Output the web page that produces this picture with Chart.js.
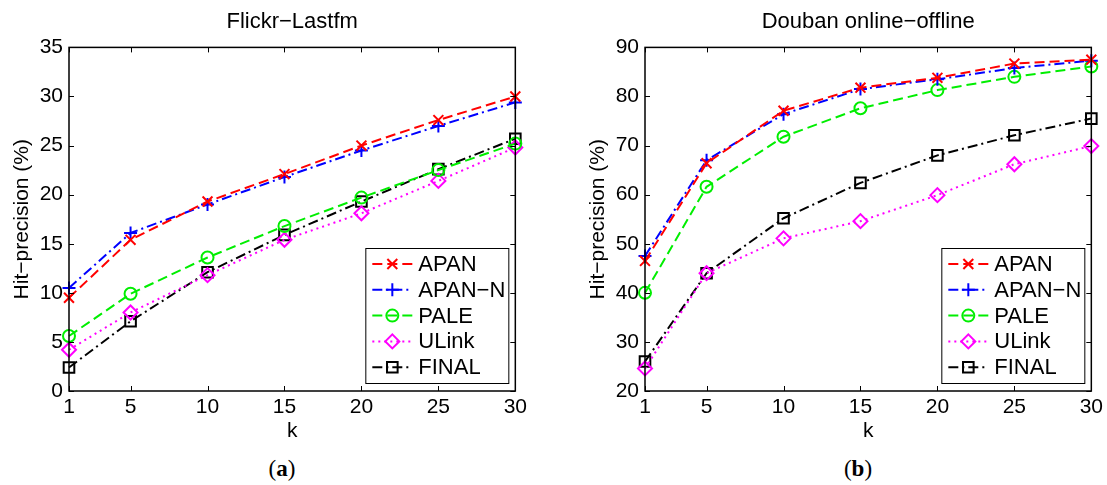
<!DOCTYPE html>
<html>
<head>
<meta charset="utf-8">
<script src="https://cdn.jsdelivr.net/npm/chart.js@4.4.1/dist/chart.umd.min.js"></script>
<style>
    body { margin: 0; background: #fff; width: 1107px; height: 485px; overflow: hidden; position: relative; }
    canvas { position: absolute; top: 0; }
    #leftChart { left: 0; }
    #rightChart { left: 576px; }
    .caption { position: absolute; top: 456px; width: 60px; text-align: center; font-family: "Liberation Serif", "DejaVu Serif", serif; font-size: 23px; color: #000; }
</style>
</head>
<body>
<canvas id="leftChart" width="531" height="450"></canvas>
<canvas id="rightChart" width="531" height="450"></canvas>
<div class="caption" style="left:252px;">(<b>a</b>)</div>
<div class="caption" style="left:828px;">(<b>b</b>)</div>
<script>
// k values and x tick labels
const kValues = [1, 5, 10, 15, 20, 25, 30];
const xTicks = [1, 5, 10, 15, 20, 25, 30];

const seriesNames = ["APAN", "APAN\u2212N", "PALE", "ULink", "FINAL"];

// Flickr-Lastfm
const apanFL = [9.5, 15.4, 19.3, 22.1, 25.0, 27.6, 30.0];
const apanNFL = [10.5, 16.1, 19.0, 21.8, 24.5, 27.0, 29.4];
const paleFL = [5.6, 9.9, 13.6, 16.8, 19.7, 22.5, 25.2];
const ulinkFL = [4.2, 8.0, 11.8, 15.4, 18.1, 21.4, 24.8];
const finalFL = [2.4, 7.1, 12.1, 15.9, 19.3, 22.6, 25.7];

// Douban online-offline
const apanDO = [46.5, 66.4, 77.1, 81.8, 83.8, 86.7, 87.5];
const apanNDO = [47.5, 67.0, 76.4, 81.5, 83.5, 85.8, 87.3];
const paleDO = [40.0, 61.6, 71.8, 77.6, 81.3, 84.0, 86.1];
const ulinkDO = [24.6, 44.0, 51.1, 54.6, 59.9, 66.2, 69.9];
const finalDO = [26.0, 44.0, 55.2, 62.4, 68.0, 72.1, 75.5];

const FONT = "'Liberation Sans', Arial, Helvetica, sans-serif";

const styles = [
    { color: "#ff0000", dash: [10, 5], pointStyle: "crossRot", radius: 7 },
    { color: "#0000ff", dash: [10, 4, 2, 4], pointStyle: "cross", radius: 6.5 },
    { color: "#00ee00", dash: [10, 5], pointStyle: "circle", radius: 6 },
    { color: "#ff00ff", dash: [2, 4], pointStyle: "rectRot", radius: 7 },
    { color: "#000000", dash: [10, 4, 2, 4], pointStyle: "rect", radius: 7.5 }
];

function makeDatasets(seriesList) {
    return seriesList.map((values, i) => ({
        label: seriesNames[i],
        data: values.map((v, j) => ({ x: kValues[j], y: v })),
        borderColor: styles[i].color,
        borderWidth: 2,
        borderDash: styles[i].dash,
        pointStyle: styles[i].pointStyle,
        pointRadius: styles[i].radius,
        pointBorderWidth: 2,
        pointBorderColor: styles[i].color,
        pointBackgroundColor: "rgba(0,0,0,0)",
        fill: false,
        tension: 0,
        clip: false
    }));
}

// box round the plot with inward ticks, like matlab
const framePlugin = {
    id: "frame",
    afterDatasetsDraw(chart) {
        const ctx = chart.ctx;
        const a = chart.chartArea;
        const xs = chart.scales.x, ys = chart.scales.y;
        ctx.save();
        ctx.strokeStyle = "#000";
        ctx.lineWidth = 1.5;
        ctx.setLineDash([]);
        ctx.strokeRect(a.left, a.top, a.right - a.left, a.bottom - a.top);
        ctx.lineWidth = 1;
        ctx.beginPath();
        xs.ticks.forEach(t => {
            const px = Math.round(xs.getPixelForValue(t.value)) + 0.5;
            ctx.moveTo(px, a.bottom); ctx.lineTo(px, a.bottom - 5);
            ctx.moveTo(px, a.top); ctx.lineTo(px, a.top + 5);
        });
        ys.ticks.forEach(t => {
            const py = Math.round(ys.getPixelForValue(t.value)) + 0.5;
            ctx.moveTo(a.left, py); ctx.lineTo(a.left + 5, py);
            ctx.moveTo(a.right, py); ctx.lineTo(a.right - 5, py);
        });
        ctx.stroke();
        ctx.restore();
    }
};

// legend box in the lower right corner of the plot
const legendPlugin = {
    id: "boxLegend",
    afterDraw(chart) {
        const ctx = chart.ctx;
        const a = chart.chartArea;
        const w = 143, h = 135;
        const x0 = a.right - 7 - w, y0 = a.bottom - 8 - h;
        ctx.save();
        ctx.fillStyle = "#fff";
        ctx.fillRect(x0, y0, w, h);
        ctx.strokeStyle = "#000";
        ctx.lineWidth = 1;
        ctx.strokeRect(x0 + 0.5, y0 + 0.5, w, h);
        chart.data.datasets.forEach((ds, i) => {
            const cy = y0 + 16 + i * 25.8;
            ctx.strokeStyle = ds.borderColor;
            ctx.lineWidth = 2;
            ctx.setLineDash(ds.borderDash);
            ctx.beginPath();
            ctx.moveTo(x0 + 7, cy);
            ctx.lineTo(x0 + 47, cy);
            ctx.stroke();
            ctx.setLineDash([]);
            ctx.fillStyle = "rgba(0,0,0,0)";
            ctx.strokeStyle = ds.pointBorderColor;
            ctx.lineWidth = 2;
            Chart.helpers.drawPoint(ctx, {
                pointStyle: ds.pointStyle, radius: ds.pointRadius,
                borderWidth: 2, rotation: 0
            }, x0 + 27, cy);
            ctx.fillStyle = "#000";
            ctx.font = "22px " + FONT;
            ctx.textBaseline = "middle";
            ctx.textAlign = "left";
            ctx.fillText(ds.label, x0 + 53, cy + 1);
        });
        ctx.restore();
    }
};

function makeChart(id, title, seriesList, yMin, yMax, yStep) {
    const ctx = document.getElementById(id).getContext("2d");
    return new Chart(ctx, {
        type: "line",
        data: { datasets: makeDatasets(seriesList) },
        options: {
            responsive: false,
            animation: false,
            events: [],
            layout: { padding: { left: 0, right: 15, top: 0, bottom: 0 } },
            plugins: {
                legend: { display: false },
                tooltip: { enabled: false },
                title: {
                    display: true,
                    text: title,
                    fullSize: false,
                    color: "#000",
                    font: { family: FONT, size: 22, weight: "normal" },
                    padding: { top: 9, bottom: 12 }
                }
            },
            scales: {
                x: {
                    type: "linear",
                    min: 1,
                    max: 30,
                    afterBuildTicks: (scale) => { scale.ticks = xTicks.map(v => ({ value: v })); },
                    afterFit: (scale) => { scale.height = 59; },
                    grid: { display: false, drawTicks: false },
                    border: { display: false },
                    ticks: { color: "#000", padding: 4, maxRotation: 0, autoSkip: false, font: { family: FONT, size: 21 } },
                    title: { display: true, text: "k", color: "#000", padding: { top: 0, bottom: 6 }, font: { family: FONT, size: 21 } }
                },
                y: {
                    min: yMin,
                    max: yMax,
                    afterFit: (scale) => { scale.width = 69; },
                    grid: { display: false, drawTicks: false },
                    border: { display: false },
                    ticks: { stepSize: yStep, color: "#000", padding: 6, font: { family: FONT, size: 21 } },
                    title: { display: true, text: "Hit\u2212precision (%)", color: "#000", padding: { top: 10, bottom: 0 }, font: { family: FONT, size: 21 } }
                }
            }
        },
        plugins: [framePlugin, legendPlugin]
    });
}

makeChart("leftChart", "Flickr\u2212Lastfm", [apanFL, apanNFL, paleFL, ulinkFL, finalFL], 0, 35, 5);
makeChart("rightChart", "Douban online\u2212offline", [apanDO, apanNDO, paleDO, ulinkDO, finalDO], 20, 90, 10);
</script>
</body>
</html>
